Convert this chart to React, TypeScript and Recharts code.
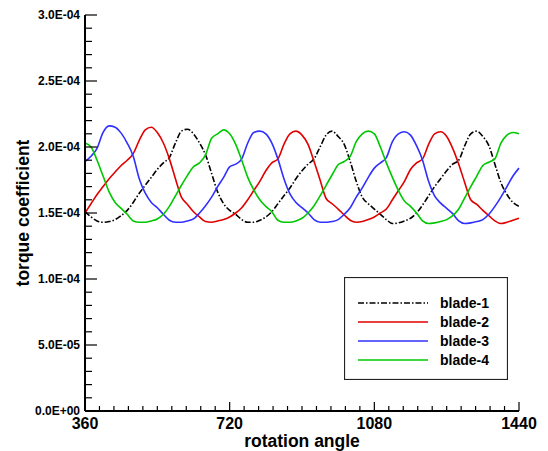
import React from 'react';
import { LineChart, Line, XAxis, YAxis } from 'recharts';

// rotation angle samples (deg)
const angles = [
  360, 375, 390, 405, 420, 435, 450, 465, 480, 495, 510, 525, 540, 555, 570, 585, 600, 615, 630, 645, 660, 675, 690, 705, 720,
  735, 750, 765, 780, 795, 810, 825, 840, 855, 870, 885, 900, 915, 930, 945, 960, 975, 990, 1005, 1020, 1035, 1050, 1065, 1080,
  1095, 1110, 1125, 1140, 1155, 1170, 1185, 1200, 1215, 1230, 1245, 1260, 1275, 1290, 1305, 1320, 1335, 1350, 1365, 1380, 1395, 1410, 1425, 1440,
];

// torque coefficient, in units of 1E-04
const blade1 = [
  1.51, 1.47, 1.44, 1.43, 1.435, 1.45, 1.48, 1.52, 1.58, 1.65, 1.71, 1.77, 1.83, 1.88, 1.92, 2.03, 2.12, 2.135, 2.1, 2.03, 1.94, 1.8, 1.66, 1.57, 1.52,
  1.49, 1.45, 1.43, 1.43, 1.445, 1.47, 1.51, 1.57, 1.63, 1.69, 1.76, 1.82, 1.87, 1.91, 2.0, 2.09, 2.12, 2.08, 2.02, 1.89, 1.74, 1.62, 1.57, 1.53,
  1.49, 1.45, 1.42, 1.425, 1.44, 1.46, 1.5, 1.56, 1.63, 1.7, 1.76, 1.82, 1.87, 1.9, 2.01, 2.1, 2.12, 2.08, 2.01, 1.87, 1.73, 1.64, 1.58, 1.55,
];
const blade2 = [
  1.5, 1.57, 1.64, 1.7, 1.76, 1.81, 1.86, 1.9, 1.95, 2.05, 2.13, 2.15, 2.11, 2.03, 1.91, 1.76, 1.62, 1.565, 1.51, 1.47, 1.435, 1.43, 1.44, 1.45, 1.47,
  1.5, 1.54, 1.6, 1.67, 1.74, 1.82, 1.88, 1.91, 2.02, 2.1, 2.12, 2.09, 2.02, 1.89, 1.75, 1.61, 1.57, 1.53, 1.485, 1.445, 1.43, 1.435, 1.45, 1.47,
  1.5, 1.53, 1.6, 1.67, 1.74, 1.83, 1.88, 1.91, 2.02, 2.1, 2.115, 2.08, 1.99, 1.87, 1.73, 1.6, 1.565, 1.52, 1.48, 1.44, 1.42, 1.43, 1.445, 1.46,
];
const blade3 = [
  1.89, 1.93, 1.99, 2.11, 2.16, 2.15, 2.105, 2.03, 1.93, 1.76, 1.65, 1.58, 1.54, 1.49, 1.445, 1.43, 1.43, 1.44, 1.455, 1.5, 1.555, 1.62, 1.7, 1.77, 1.85,
  1.87, 1.91, 2.03, 2.11, 2.12, 2.1, 2.03, 1.91, 1.76, 1.645, 1.58, 1.54, 1.5, 1.45, 1.43, 1.43, 1.435, 1.45, 1.49, 1.54, 1.62, 1.69, 1.77, 1.84,
  1.88, 1.92, 2.04, 2.1, 2.115, 2.09, 2.01, 1.9, 1.74, 1.63, 1.575, 1.535, 1.495, 1.44, 1.42, 1.425, 1.435, 1.45, 1.49, 1.55, 1.62, 1.7, 1.78, 1.84,
];
const blade4 = [
  2.03, 2.0, 1.9, 1.78, 1.66, 1.58, 1.535, 1.49, 1.44, 1.43, 1.43, 1.44, 1.455, 1.49, 1.55, 1.63, 1.71, 1.785, 1.85, 1.88, 1.94, 2.066, 2.1, 2.13, 2.1,
  2.02, 1.9, 1.77, 1.675, 1.6, 1.55, 1.51, 1.445, 1.43, 1.43, 1.44, 1.46, 1.5, 1.555, 1.63, 1.71, 1.79, 1.865, 1.89, 1.93, 2.04, 2.1, 2.12, 2.1,
  2.0, 1.88, 1.77, 1.67, 1.59, 1.55, 1.5, 1.44, 1.42, 1.425, 1.435, 1.45, 1.48, 1.53, 1.615, 1.7, 1.78, 1.86, 1.885, 1.91, 2.03, 2.09, 2.11, 2.1,
];

const seriesNames = ['blade-1', 'blade-2', 'blade-3', 'blade-4'];
const seriesColors = ['#000000', '#e00000', '#3030ff', '#00c800'];
const SCALE = 1e-4;

const xTicks = [
  360, 396, 432, 468, 504, 540, 576, 612, 648, 684, 720, 756, 792, 828, 864, 900, 936, 972, 1008, 1044,
  1080, 1116, 1152, 1188, 1224, 1260, 1296, 1332, 1368, 1404, 1440,
];
const xMajor = [360, 720, 1080, 1440];
const yTicks = [
  0, 1e-5, 2e-5, 3e-5, 4e-5, 5e-5, 6e-5, 7e-5, 8e-5, 9e-5, 10e-5, 11e-5, 12e-5, 13e-5, 14e-5, 15e-5,
  16e-5, 17e-5, 18e-5, 19e-5, 20e-5, 21e-5, 22e-5, 23e-5, 24e-5, 25e-5, 26e-5, 27e-5, 28e-5, 29e-5, 30e-5,
];
const yTickLabels = ['0.0E+00', '5.0E-05', '1.0E-04', '1.5E-04', '2.0E-04', '2.5E-04', '3.0E-04'];

const data = angles.map((a, i) => ({
  angle: a,
  b1: blade1[i] * SCALE,
  b2: blade2[i] * SCALE,
  b3: blade3[i] * SCALE,
  b4: blade4[i] * SCALE,
}));

const FONT = '"Liberation Sans", Arial, Helvetica, sans-serif';

const XTick = (props: any) => {
  const { x, y, payload } = props;
  const major = xMajor.includes(payload.value);
  return (
    <g>
      <line x1={x} y1={y} x2={x} y2={y - (major ? 9 : 5)} stroke="#000" strokeWidth={1.2} />
      {major && (
        <text x={x} y={y + 18} textAnchor="middle" fontFamily={FONT} fontWeight="bold" fontSize={16} fill="#000">
          {payload.value}
        </text>
      )}
    </g>
  );
};

const YTick = (props: any) => {
  const { x, y, payload } = props;
  const k = Math.round(payload.value * 1e5);
  const major = k % 5 === 0;
  return (
    <g>
      <line x1={x} y1={y} x2={x + (major ? 12 : 7)} y2={y} stroke="#000" strokeWidth={1.2} />
      {major && (
        <text x={x - 5} y={y + 4.3} textAnchor="end" fontFamily={FONT} fontWeight="bold" fontSize={12} fill="#000">
          {yTickLabels[k / 5]}
        </text>
      )}
    </g>
  );
};

const dashes = ['6 2 1.5 2', undefined, undefined, undefined];

export default function App() {
  return (
    <div style={{ position: 'absolute', left: 0, top: 0, width: 548, height: 451, background: '#fff' }}>
      <LineChart width={548} height={451} data={data} margin={{ top: 15, right: 29, left: 0, bottom: 0 }}>
        <XAxis
          dataKey="angle"
          type="number"
          domain={[360, 1440]}
          ticks={xTicks}
          interval={0}
          tickSize={0}
          tickMargin={0}
          height={40}
          tick={<XTick />}
          axisLine={{ stroke: '#000', strokeWidth: 2 }}
          tickLine={false}
          label={{
            content: () => (
              <text x={302} y={447} textAnchor="middle" fontFamily={FONT} fontWeight="bold" fontSize={17.5} fill="#000">
                rotation angle
              </text>
            ),
          }}
        />
        <YAxis
          type="number"
          domain={[0, 3e-4]}
          ticks={yTicks}
          interval={0}
          tickSize={0}
          tickMargin={0}
          width={85}
          tick={<YTick />}
          axisLine={{ stroke: '#000', strokeWidth: 2 }}
          tickLine={false}
          allowDataOverflow
          label={{
            content: () => (
              <text
                transform="translate(29,213) rotate(-90)"
                x={0}
                y={0}
                textAnchor="middle"
                fontFamily={FONT}
                fontWeight="bold"
                fontSize={17.5}
                fill="#000"
              >
                torque coefficient
              </text>
            ),
          }}
        />
        {['b1', 'b2', 'b3', 'b4'].map((k, i) => (
          <Line
            key={k}
            dataKey={k}
            name={seriesNames[i]}
            type="monotone"
            stroke={seriesColors[i]}
            strokeWidth={1.6}
            strokeDasharray={dashes[i]}
            dot={false}
            activeDot={false}
            isAnimationActive={false}
          />
        ))}
      </LineChart>
      <div style={{ position: 'absolute', left: 344, top: 277, width: 164, height: 103 }}>
        <svg width={164} height={103}>
          <rect x={0.5} y={0.5} width={163} height={102} fill="#fff" stroke="#222" strokeWidth={1.2} />
          {seriesNames.map((n, i) => {
            const cy = 26 + i * 19;
            return (
              <g key={n}>
                <line x1={14} y1={cy} x2={84} y2={cy} stroke={seriesColors[i]} strokeWidth={1.3} strokeDasharray={dashes[i]} />
                <text x={96} y={cy + 5} fontFamily={FONT} fontWeight="bold" fontSize={14} fill="#000">
                  {n}
                </text>
              </g>
            );
          })}
        </svg>
      </div>
    </div>
  );
}
